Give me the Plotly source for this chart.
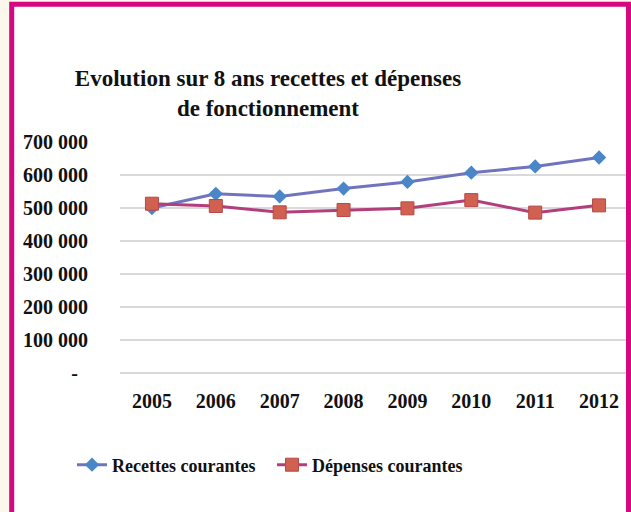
import plotly.graph_objects as go

years = ["2005", "2006", "2007", "2008", "2009", "2010", "2011", "2012"]
recettes = [500000, 543000, 535000, 559000, 579000, 607000, 626000, 653000]
depenses = [513000, 506000, 487000, 494000, 499000, 524000, 486000, 508000]
ytick_vals = [0, 100000, 200000, 300000, 400000, 500000, 600000, 700000]
ytick_text = ["-\u00a0\u00a0", "100 000", "200 000", "300 000", "400 000",
              "500 000", "600 000", "700 000"]
title_text = "Evolution sur 8 ans recettes et dépenses<br>de fonctionnement"

W, H = 631, 512
ML, MR, MT, MB = 120, 0, 142, 139
PW = W - ML - MR
PH = H - MT - MB


def px(x):
    return (x - ML) / PW


def py(y):
    return (H - MB - y) / PH


FONT = "Liberation Serif"
MAG = "#d6077f"
BEIGE = "#fbf7ec"

fig = go.Figure()
fig.add_trace(go.Scatter(
    x=years, y=recettes, name="Recettes courantes", mode="lines+markers",
    line=dict(color="#7074bd", width=3),
    marker=dict(symbol="diamond", size=11, color="#4a86c8",
                line=dict(color="#4a86c8", width=0)),
))
fig.add_trace(go.Scatter(
    x=years, y=depenses, name="Dépenses courantes", mode="lines+markers",
    line=dict(color="#b23f7c", width=3),
    marker=dict(symbol="square", size=13, color="#d0604f",
                line=dict(color="#b84848", width=1)),
))

fig.update_layout(
    width=W, height=H,
    margin=dict(l=ML, r=MR, t=MT, b=MB, pad=0),
    paper_bgcolor=BEIGE,
    plot_bgcolor="rgba(0,0,0,0)",
    title=dict(text=title_text, x=268 / W, xanchor="center",
               y=1 - 86 / H, yanchor="middle",
               font=dict(family=FONT, size=23, color="#111111", weight="bold")),
    showlegend=True,
    legend=dict(orientation="h", x=px(72), xanchor="left", y=py(465),
                yanchor="middle", bgcolor="rgba(0,0,0,0)",
                font=dict(family=FONT, size=18, color="#111111", weight="bold"),
                itemwidth=30, entrywidth=155, tracegroupgap=0),
    shapes=[
        dict(type="rect", xref="paper", yref="paper",
             x0=px(11.7), x1=px(628.5), y0=py(540), y1=py(4.2),
             fillcolor="white", line=dict(width=0), layer="below"),
        dict(type="rect", xref="paper", yref="paper",
             x0=px(11.7), x1=px(628.5), y0=py(540), y1=py(4.2),
             fillcolor="rgba(0,0,0,0)", line=dict(color=MAG, width=5),
             layer="above"),
    ],
)

fig.update_xaxes(
    type="category", range=[-0.5, 7.5], showgrid=False, showline=False,
    ticks="", ticklabelstandoff=14,
    tickfont=dict(family=FONT, size=20, color="#111111", weight="bold"),
)
fig.update_yaxes(
    range=[0, 700000], tickvals=ytick_vals, ticktext=ytick_text,
    showgrid=True, gridcolor="#d9d9d9", gridwidth=1.5,
    zeroline=True, zerolinecolor="#d9d9d9", zerolinewidth=1.5,
    showline=False, ticks="", ticklabelstandoff=31,
    tickfont=dict(family=FONT, size=20, color="#111111", weight="bold"),
)

fig.write_html(
    "out.html",
    config={"displayModeBar": False},
    post_script="document.body.style.margin='0';"
                "document.body.style.background='" + BEIGE + "';"
                "document.body.style.overflow='hidden';",
)
